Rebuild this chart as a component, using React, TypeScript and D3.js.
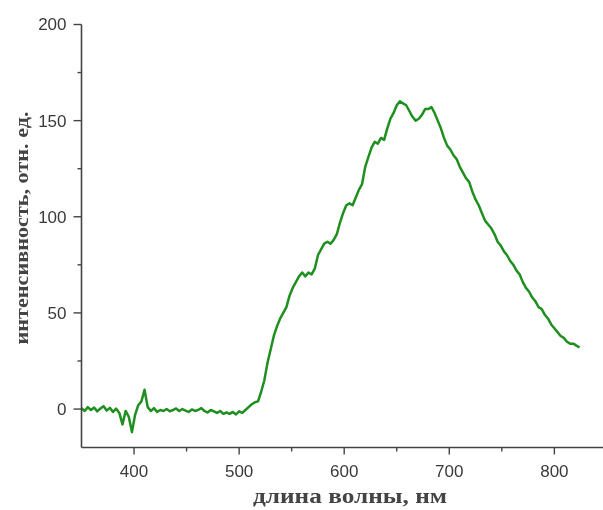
// App.tsx — emission spectrum (intensity vs wavelength), drawn with D3 through a ref.
import { useEffect, useRef } from "react";
import * as d3 from "d3";

// wavelength grid: 350 nm, 3 nm step
const START_NM = 350;
const STEP_NM = 3;

// intensity, arb. units
const baseline = [
  0.5, -1, 1, -0.5, 0.8, -1.2, 0.3, 1.5, -0.8, 0.6, -1.5, 0.2, -2, -8, -1, -4, -12, -3, 2, 4,
  10, 1, -1, 0.5, -1.5, -0.5, -1, 0, -1.2, -0.5, 0.3, -1, 0, -0.8, -1.5, -0.2, -1, -0.5, 0.5, -1,
  -1.8, -0.5, -1.2, -2, -1, -2.5, -1.8, -2.5, -1.5, -2.8, -1.2, -2, -0.5,
];
const rise = [
  1, 2.5, 3.5, 4, 9, 15, 24, 31, 38, 43, 47, 50, 53, 59, 63, 66, 69, 71, 69, 71, 70, 73, 80, 83,
];
const middle = [
  86, 87, 86, 88, 91, 97, 102, 106, 107, 106, 110, 114, 117, 126, 131, 136, 139, 138, 141, 140,
  146, 151, 154, 158,
];
const peak = [160, 159, 158, 155, 152, 150, 151, 153, 156, 156, 157, 154, 150, 146, 141, 137];
const decay = [
  135, 132, 130, 126, 123, 120, 118, 113, 109, 106, 102, 98, 96, 94, 91, 87, 85, 82, 80, 77, 75,
  72, 70, 66, 63, 61, 58, 56, 53, 52, 49, 47, 44, 42, 40, 38, 37, 35, 34, 34, 33, 32,
];

const xMajor = [400, 500, 600, 700, 800];
const xMinor = [450, 550, 650, 750];
const yMajor = [0, 50, 100, 150, 200];
const yMinor = [25, 75, 125, 175];

const xTitle = "длина волны, нм";
const yTitle = "интенсивность, отн. ед.";

type Pt = { nm: number; v: number };

export default function App() {
  const ref = useRef<SVGSVGElement | null>(null);

  useEffect(() => {
    const svg = d3.select(ref.current);
    svg.selectAll("*").remove();

    const width = 603;
    const height = 510;
    const axisColor = "#444";
    const tickFont = "'Liberation Sans', Arial, sans-serif";
    const titleFont = "'Liberation Serif', 'Times New Roman', serif";

    const values = [...baseline, ...rise, ...middle, ...peak, ...decay];
    const data: Pt[] = values.map((v, i) => ({ nm: START_NM + STEP_NM * i, v }));

    const x = d3.scaleLinear().domain([350, 850]).range([81.5, 81.5 + 500 * 1.0508]);
    const y = d3.scaleLinear().domain([-20, 200]).range([447.5, 24.5]);

    svg.attr("width", width).attr("height", height);

    // curve
    const line = d3
      .line<Pt>()
      .x((d) => x(d.nm))
      .y((d) => y(d.v));
    svg
      .append("path")
      .datum(data)
      .attr("fill", "none")
      .attr("stroke", "#1f8f1f")
      .attr("stroke-width", 2.5)
      .attr("stroke-linejoin", "round")
      .attr("d", line);

    // y axis
    const gy = svg.append("g").attr("transform", `translate(${x(350)},0)`);
    gy.append("line")
      .attr("y1", y(200))
      .attr("y2", y(-20))
      .attr("stroke", axisColor)
      .attr("stroke-width", 1.6);
    gy.selectAll("line.maj")
      .data(yMajor)
      .join("line")
      .attr("class", "maj")
      .attr("x1", -8)
      .attr("x2", 0)
      .attr("y1", (d) => y(d))
      .attr("y2", (d) => y(d))
      .attr("stroke", axisColor)
      .attr("stroke-width", 1.4);
    gy.selectAll("line.min")
      .data(yMinor)
      .join("line")
      .attr("class", "min")
      .attr("x1", -4)
      .attr("x2", 0)
      .attr("y1", (d) => y(d))
      .attr("y2", (d) => y(d))
      .attr("stroke", axisColor)
      .attr("stroke-width", 1.4);
    gy.selectAll("text")
      .data(yMajor)
      .join("text")
      .attr("x", -15)
      .attr("y", (d) => y(d))
      .attr("dy", "0.35em")
      .attr("text-anchor", "end")
      .attr("font-family", tickFont)
      .attr("font-size", 17)
      .attr("fill", "#3a3a3a")
      .text((d) => String(d));

    // x axis
    const gx = svg.append("g").attr("transform", `translate(0,${y(-20)})`);
    gx.append("line")
      .attr("x1", x(350))
      .attr("x2", width)
      .attr("stroke", axisColor)
      .attr("stroke-width", 1.6);
    gx.selectAll("line.maj")
      .data(xMajor)
      .join("line")
      .attr("class", "maj")
      .attr("x1", (d) => x(d))
      .attr("x2", (d) => x(d))
      .attr("y1", 0)
      .attr("y2", 7)
      .attr("stroke", axisColor)
      .attr("stroke-width", 1.4);
    gx.selectAll("line.min")
      .data(xMinor)
      .join("line")
      .attr("class", "min")
      .attr("x1", (d) => x(d))
      .attr("x2", (d) => x(d))
      .attr("y1", 0)
      .attr("y2", 4)
      .attr("stroke", axisColor)
      .attr("stroke-width", 1.4);
    gx.selectAll("text")
      .data(xMajor)
      .join("text")
      .attr("x", (d) => x(d))
      .attr("y", 29)
      .attr("text-anchor", "middle")
      .attr("font-family", tickFont)
      .attr("font-size", 17)
      .attr("fill", "#3a3a3a")
      .text((d) => String(d));

    // titles
    svg
      .append("text")
      .attr("x", 350)
      .attr("y", 503)
      .attr("text-anchor", "middle")
      .attr("font-family", titleFont)
      .attr("font-size", 20)
      .attr("font-weight", "bold")
      .attr("fill", "#444")
      .attr("textLength", 194)
      .attr("lengthAdjust", "spacingAndGlyphs")
      .text(xTitle);
    svg
      .append("text")
      .attr("transform", "translate(28,228) rotate(-90)")
      .attr("text-anchor", "middle")
      .attr("font-family", titleFont)
      .attr("font-size", 19)
      .attr("font-weight", "bold")
      .attr("fill", "#444")
      .attr("textLength", 233)
      .attr("lengthAdjust", "spacingAndGlyphs")
      .text(yTitle);
  }, []);

  return (
    <div style={{ position: "fixed", left: 0, top: 0 }}>
      <svg ref={ref} />
    </div>
  );
}
